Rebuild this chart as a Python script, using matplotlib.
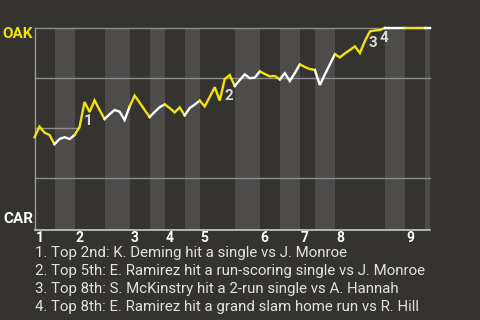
import matplotlib.pyplot as plt
import numpy as np

plt.rcParams['font.family'] = ['Roboto', 'DejaVu Sans']

teams = ["OAK", "CAR"]
innings = ["1", "2", "3", "4", "5", "6", "7", "8", "9"]
# plate appearances in each half inning (top 1st, bottom 1st, top 2nd, ...)
pa_per_half = [4, 4, 6, 5, 4, 3, 4, 3, 7, 5, 4, 4, 3, 4, 10, 4, 4, 1]
# OAK win probability after each plate appearance
win_prob = [0.454, 0.507, 0.477, 0.465, 0.419, 0.445, 0.454, 0.445, 0.465, 0.505,
            0.630, 0.580, 0.638, 0.590, 0.545, 0.569, 0.590, 0.582, 0.540, 0.607,
            0.662, 0.627, 0.590, 0.555, 0.580, 0.604, 0.618, 0.600, 0.578, 0.603,
            0.563, 0.600, 0.617, 0.637, 0.608, 0.655, 0.704, 0.637, 0.745, 0.765,
            0.710, 0.740, 0.768, 0.749, 0.752, 0.783, 0.770, 0.758, 0.760, 0.743,
            0.774, 0.735, 0.775, 0.818, 0.805, 0.795, 0.790, 0.715, 0.768, 0.818,
            0.869, 0.853, 0.873, 0.890, 0.908, 0.875, 0.935, 0.983, 0.988, 0.990,
            1.0, 1.0, 1.0, 1.0, 1.0, 1.0, 1.0, 1.0, 1.0, 1.0]
event_pa = [10, 38, 67, 69]
event_text = ["Top 2nd: K. Deming hit a single vs J. Monroe",
              "Top 5th: E. Ramirez hit a run-scoring single vs J. Monroe",
              "Top 8th: S. McKinstry hit a 2-run single vs A. Hannah",
              "Top 8th: E. Ramirez hit a grand slam home run vs R. Hill"]

BG = '#353330'
LIGHT = '#4d4c4a'
GRID = '#8e8e8e'
YELLOW = '#f2e20f'
WHITE = '#ffffff'
TXT = '#e2e2e2'

wp = np.array(win_prob)
x = np.arange(len(wp))
bounds = np.concatenate([[0], np.cumsum(pa_per_half)])

fig = plt.figure(figsize=(4.8, 3.2), dpi=100, facecolor=BG)
ax = fig.add_axes([34.5 / 480, 1 - 230 / 320, 395.5 / 480, 202 / 320])
ax.set_facecolor(BG)

for k in range(len(pa_per_half)):
    if k % 2 == 1:
        ax.axvspan(bounds[k], bounds[k + 1], color=LIGHT, lw=0, zorder=0)

for y in [0.25, 0.75, 1.0]:
    ax.axhline(y, color=GRID, lw=1, zorder=1, clip_on=False)

# the 50% line only shows up until the curve leaves it for good
j = np.where(wp < 0.5)[0][-1]
xc = j + (0.5 - wp[j]) / (wp[j + 1] - wp[j])
ax.plot([0, xc], [0.5, 0.5], color=GRID, lw=1, zorder=1)

for k in range(len(pa_per_half)):
    s, e = bounds[k], min(bounds[k + 1], len(wp) - 1)
    ax.plot(x[s:e + 1], wp[s:e + 1], color=YELLOW if k % 2 == 0 else WHITE,
            lw=1.7, zorder=3, clip_on=False, solid_joinstyle='miter')

label_offsets = [(3, -19), (4, -17), (3, -12), (4, -8)]
for n, (i, off) in enumerate(zip(event_pa, label_offsets)):
    ax.annotate(str(n + 1), xy=(i, wp[i]), xytext=off, textcoords='offset pixels',
                ha='center', va='center', color='#dadada', fontsize=11,
                fontweight='bold', zorder=4)

for k, lab in enumerate(innings):
    ax.annotate(lab, xy=(bounds[2 * k], 0), xycoords=ax.get_xaxis_transform(),
                xytext=(1, -8), textcoords='offset pixels', ha='left', va='center',
                color=WHITE, fontsize=10, fontweight='bold')

ax.set_xlim(0, len(wp) - 1)
ax.set_ylim(-0.01, 1.0)
ax.set_xticks([])
ax.set_yticks([])
for side in ['top', 'right']:
    ax.spines[side].set_visible(False)
ax.spines['left'].set_color('#9a9a9a')
ax.spines['bottom'].set_color('#c8c8c8')
ax.spines['left'].set_linewidth(1)
ax.spines['bottom'].set_linewidth(1.2)

fig.text(33 / 480, 1 - 33.5 / 320, teams[0], ha='right', va='center',
         color=YELLOW, fontsize=11, fontweight='bold')
fig.text(33 / 480, 1 - 219 / 320, teams[1], ha='right', va='center',
         color=WHITE, fontsize=11, fontweight='bold')

for n, t in enumerate(event_text):
    fig.text(35 / 480, 1 - (253 + 18 * n) / 320, f"{n + 1}. {t}", ha='left',
             va='center', color=TXT, fontsize=10.8)

fig.savefig('out.png', dpi=100, facecolor=BG)
